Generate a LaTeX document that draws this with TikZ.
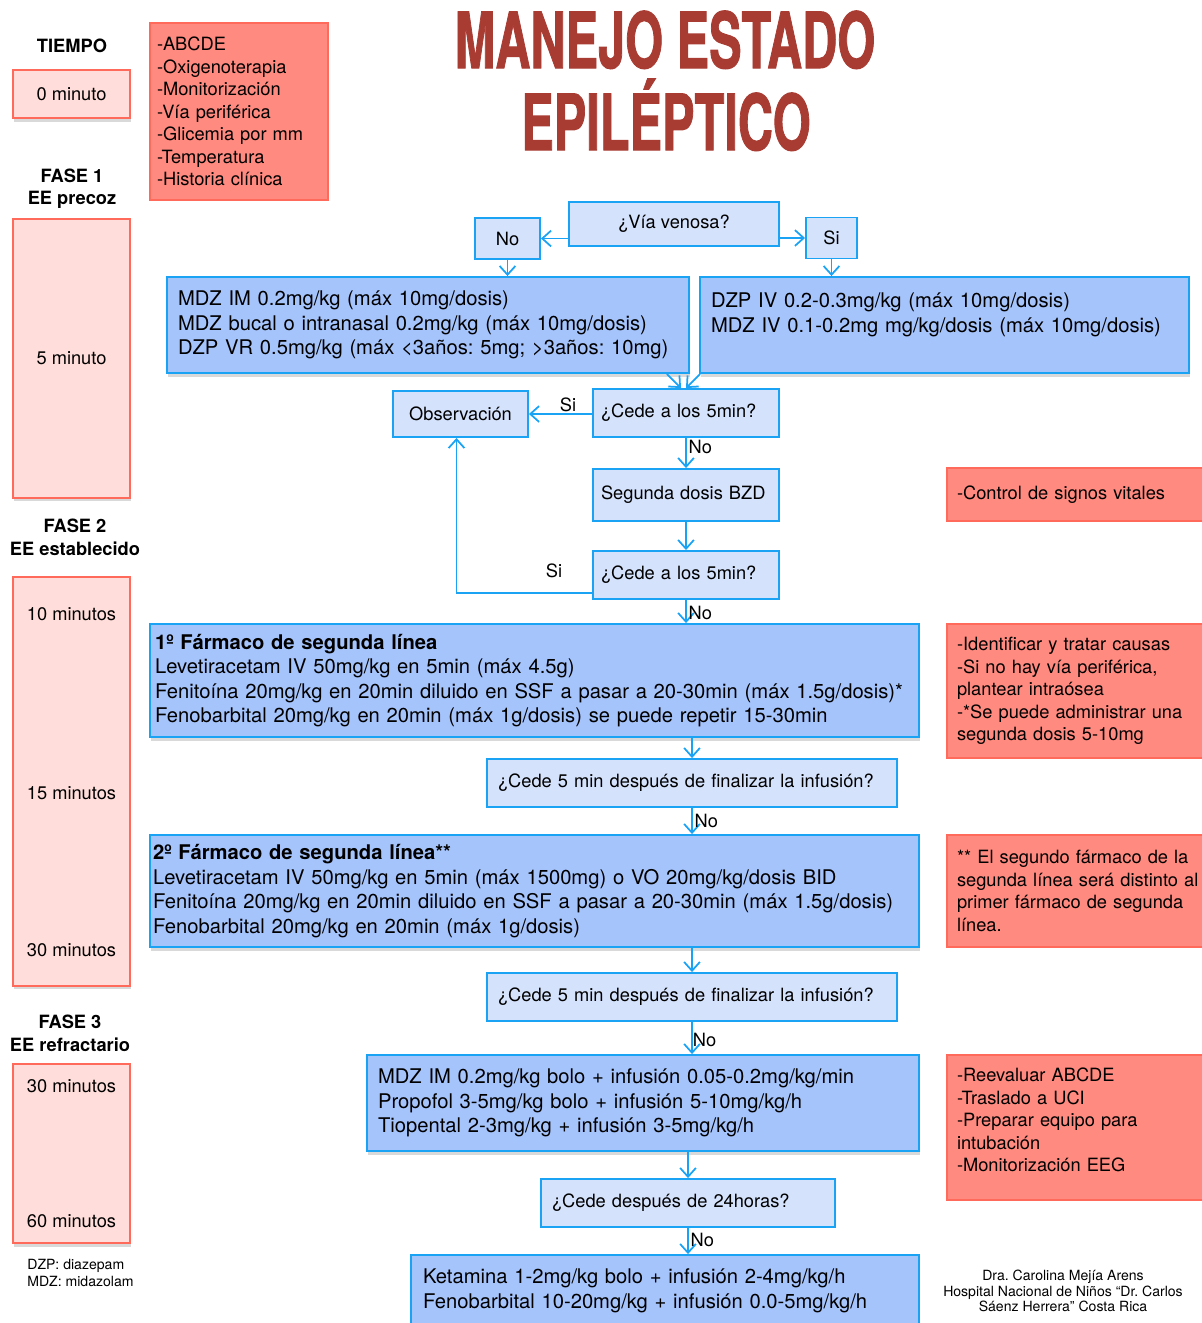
\documentclass[tikz,border=0pt]{standalone}
\usepackage{fontspec}
\setmainfont{TeX Gyre Heros}
\newfontfamily\titlefont{texgyreheros-bold.otf}[FakeBold=1.5]
\usepackage{graphicx}
\usepackage{tikz}
\usetikzlibrary{arrows.meta,shadows,calc}
\frenchspacing

\definecolor{blueline}{HTML}{1AA3F5}
\definecolor{bluelight}{HTML}{D4E2FC}
\definecolor{bluemed}{HTML}{A6C4FC}
\definecolor{redfill}{HTML}{FF8A80}
\definecolor{redline}{HTML}{FF6A5A}
\definecolor{pinkfill}{HTML}{FFDDDA}
\definecolor{titlered}{HTML}{A83B32}

\newcommand{\fbig}{\fontsize{11.5}{13.9}\selectfont}
\newcommand{\fmid}{\fontsize{10.4}{12.8}\selectfont}
\newcommand{\fsmall}{\fontsize{8}{9.6}\selectfont}

\begin{document}
\begin{tikzpicture}[x=0.02cm, y=-0.02cm,
  qbox/.style={rectangle, draw=blueline, line width=1.1pt, fill=bluelight, font=\fmid, inner xsep=0.22cm, align=left},
  drugbox/.style={rectangle, draw=blueline, line width=1.1pt, fill=bluemed, font=\fbig, inner xsep=0.22cm, align=left, drop shadow={opacity=0.3, shadow xshift=0.5pt, shadow yshift=-2pt}},
  notebox/.style={rectangle, draw=redline, line width=0.8pt, fill=redfill, font=\fmid, inner xsep=0.2cm, align=left},
  timebox/.style={rectangle, draw=redline, line width=1.1pt, fill=pinkfill, font=\fmid, minimum width=2.34cm, drop shadow={opacity=0.3, shadow xshift=0.5pt, shadow yshift=-2pt}},
  timetext/.style={font=\fmid},
  phase/.style={font=\fmid\bfseries, align=center},
  flow/.style={draw=blueline, line width=1pt, -{Straight Barb[length=5pt,width=9pt]}},
  lab/.style={font=\fmid, inner sep=1pt},
  titletext/.style={font=\titlefont\fontsize{44}{44}\selectfont, text=titlered}]
\useasboundingbox (0,0) rectangle (1202,1323);

% columna de tiempo
\node[phase] (tiempo) at (72,46) {TIEMPO};
\node[timebox, minimum height=0.96cm] (t0) at (71.5,94) {0 minuto};
\node[phase] (fase1) at (72,188.5) {FASE 1\\EE precoz};
\node[timebox, minimum height=5.58cm] (t1) at (71.5,358.5) {5 minuto};
\node[phase] (fase2) at (75,537.5) {FASE 2\\EE establecido};
\node[timebox, minimum height=8.18cm] (t2) at (71.5,781.5) {};
\node[timetext] (t2a) at (71.5,614) {10 minutos};
\node[timetext] (t2b) at (71.5,793) {15 minutos};
\node[timetext] (t2c) at (71.5,950) {30 minutos};
\node[phase] (fase3) at (70,1033.5) {FASE 3\\EE refractario};
\node[timebox, minimum height=3.58cm] (t3) at (71.5,1153.5) {};
\node[timetext] (t3a) at (71.5,1086) {30 minutos};
\node[timetext] (t3b) at (71.5,1221) {60 minutos};
\node[font=\fsmall, align=left, anchor=north west, inner sep=0pt] (abrev) at (27,1259) {DZP: diazepam\\MDZ: midazolam};

% medidas iniciales y titulo
\node[notebox, minimum width=3.56cm, minimum height=3.54cm, inner xsep=0.14cm, text width=3.28cm] (medidas) at (239,111.5) {-ABCDE\\-Oxigenoterapia\\-Monitorización\\-Vía periférica\\-Glicemia por mm\\-Temperatura\\-Historia clínica};
\node[titletext, anchor=base] (tit1) at (665,68) {\scalebox{0.63}[1]{MANEJO ESTADO}};
\node[titletext, anchor=base] (tit2) at (666,150) {\scalebox{0.63}[1]{EPILÉPTICO}};

% flujo
\node[qbox, minimum width=4.2cm, minimum height=0.88cm, align=center] (via) at (674,224) {¿Vía venosa?};
\node[qbox, minimum width=1.3cm, minimum height=0.82cm, align=center, inner xsep=0pt] (no) at (507.5,238.5) {No};
\node[qbox, minimum width=1.02cm, minimum height=0.82cm, align=center, inner xsep=0pt] (si) at (831.5,238) {Si};
\node[drugbox, minimum width=10.44cm, minimum height=1.92cm, text width=10cm] (mdz) at (428,325) {MDZ IM 0.2mg/kg (máx 10mg/dosis)\\MDZ bucal o intranasal 0.2mg/kg (máx 10mg/dosis)\\DZP VR 0.5mg/kg (máx <3años: 5mg; >3años: 10mg)};
\node[drugbox, minimum width=9.78cm, minimum height=1.92cm, text width=9.34cm] (dzp) at (944.5,325) {DZP IV 0.2-0.3mg/kg (máx 10mg/dosis)\\MDZ IV 0.1-0.2mg mg/kg/dosis (máx 10mg/dosis)\\\mbox{}};
\node[qbox, minimum width=3.72cm, minimum height=0.96cm, inner xsep=0.16cm, text width=3.4cm] (cede1) at (686,413) {¿Cede a los 5min?};
\node[qbox, minimum width=2.7cm, minimum height=0.92cm, align=center] (obs) at (460.5,414) {Observación};
\node[qbox, minimum width=3.72cm, minimum height=1.04cm, inner xsep=0.16cm, text width=3.4cm] (seg) at (686,495) {Segunda dosis BZD};
\node[qbox, minimum width=3.72cm, minimum height=0.96cm, inner xsep=0.16cm, text width=3.4cm] (cede2) at (686,575) {¿Cede a los 5min?};
\node[drugbox, minimum width=15.38cm, minimum height=2.26cm, inner xsep=0.1cm, text width=15.18cm] (farm1) at (534.5,680.5) {\textbf{1º Fármaco de segunda línea}\\Levetiracetam IV 50mg/kg en 5min (máx 4.5g)\\Fenitoína 20mg/kg en 20min diluido en SSF a pasar a 20-30min (máx 1.5g/dosis)*\\Fenobarbital 20mg/kg en 20min (máx 1g/dosis) se puede repetir 15-30min};
\node[qbox, minimum width=8.2cm, minimum height=0.96cm, text width=7.76cm] (cede3) at (692,783) {¿Cede 5 min después de finalizar la infusión?};
\node[drugbox, minimum width=15.38cm, minimum height=2.24cm, inner xsep=0.06cm, text width=15.26cm] (farm2) at (534.5,891) {\textbf{2º Fármaco de segunda línea**}\\Levetiracetam IV 50mg/kg en 5min (máx 1500mg) o VO 20mg/kg/dosis BID\\Fenitoína 20mg/kg en 20min diluido en SSF a pasar a 20-30min (máx 1.5g/dosis)\\Fenobarbital 20mg/kg en 20min (máx 1g/dosis)};
\node[qbox, minimum width=8.2cm, minimum height=0.96cm, text width=7.76cm] (cede4) at (692,997) {¿Cede 5 min después de finalizar la infusión?};
\node[drugbox, minimum width=11.04cm, minimum height=1.92cm, text width=10.6cm] (refr) at (643,1103) {MDZ IM 0.2mg/kg bolo + infusión 0.05-0.2mg/kg/min\\Propofol 3-5mg/kg bolo + infusión 5-10mg/kg/h\\Tiopental 2-3mg/kg + infusión 3-5mg/kg/h};
\node[qbox, minimum width=5.88cm, minimum height=0.96cm, text width=5.44cm] (cede5) at (688,1203) {¿Cede después de 24horas?};
\node[drugbox, minimum width=10.16cm, minimum height=1.84cm, inner xsep=0.24cm, text width=9.68cm] (keta) at (665,1301) {Ketamina 1-2mg/kg bolo + infusión 2-4mg/kg/h\\Fenobarbital 10-20mg/kg + infusión 0.0-5mg/kg/h\\\mbox{}};

% notas a la derecha
\node[notebox, minimum width=5.3cm, minimum height=1.06cm, text width=4.9cm] (signos) at (1079.5,494.5) {-Control de signos vitales};
\node[notebox, minimum width=5.3cm, minimum height=2.68cm, text width=4.9cm] (causas) at (1079.5,691) {-Identificar y tratar causas\\-Si no hay vía periférica,\\plantear intraósea\\-*Se puede administrar una\\segunda dosis 5-10mg};
\node[notebox, minimum width=5.3cm, minimum height=2.24cm, text width=4.9cm] (nota) at (1079.5,891) {** El segundo fármaco de la\\segunda línea será distinto al\\primer fármaco de segunda\\línea.};
\node[notebox, minimum width=5.3cm, minimum height=2.9cm, text width=4.9cm] (reeval) at (1079.5,1127.5) {-Reevaluar ABCDE\\-Traslado a UCI\\-Preparar equipo para\\intubación\\-Monitorización EEG\\[-4pt]\mbox{}};
\node[font=\fontsize{8}{7}\selectfont, align=center] (autora) at (1063,1291) {Dra. Carolina Mejía Arens\\Hospital Nacional de Niños “Dr. Carlos\\Sáenz Herrera” Costa Rica};

% conectores
\draw[flow] (via.west |- no.east) -- (no.east);
\draw[flow] (via.east |- si.west) -- (si.west);
\draw[flow] (no.south) -- (no.south |- mdz.north);
\draw[flow] (si.south) -- (si.south |- dzp.north);
\draw[flow] ($(mdz.south east)+(-23,0)$) -- ($(cede1.north)+(-5,0)$);
\draw[flow] ($(dzp.south west)+(1,0)$) -- (cede1.north);
\draw[flow] (cede1.west |- obs.east) -- node[lab, above, pos=0.38] {Si} (obs.east);
\draw[flow] (cede1.south) -- node[lab, right, pos=0.3] {No} (seg.north);
\draw[flow] (seg.south) -- (cede2.north);
\draw[flow] ($(cede2.south west)+(0,-7)$) -| node[lab, above, pos=0.14, yshift=7pt] {Si} ($(obs.south)+(-4,0)$);
\draw[flow] (cede2.south) -- node[lab, right, pos=0.55] {No} (cede2.south |- farm1.north);
\draw[flow] (cede3.north |- farm1.south) -- (cede3.north);
\draw[flow] (cede3.south) -- node[lab, right, pos=0.5] {No} (cede3.south |- farm2.north);
\draw[flow] (cede4.north |- farm2.south) -- (cede4.north);
\draw[flow] (cede4.south) -- node[lab, right, pos=0.55, inner xsep=0pt] {No} (cede4.south |- refr.north);
\draw[flow] (cede5.north |- refr.south) -- (cede5.north);
\draw[flow] (cede5.south) -- node[lab, right, pos=0.45] {No} (cede5.south |- keta.north);
\end{tikzpicture}
\end{document}
